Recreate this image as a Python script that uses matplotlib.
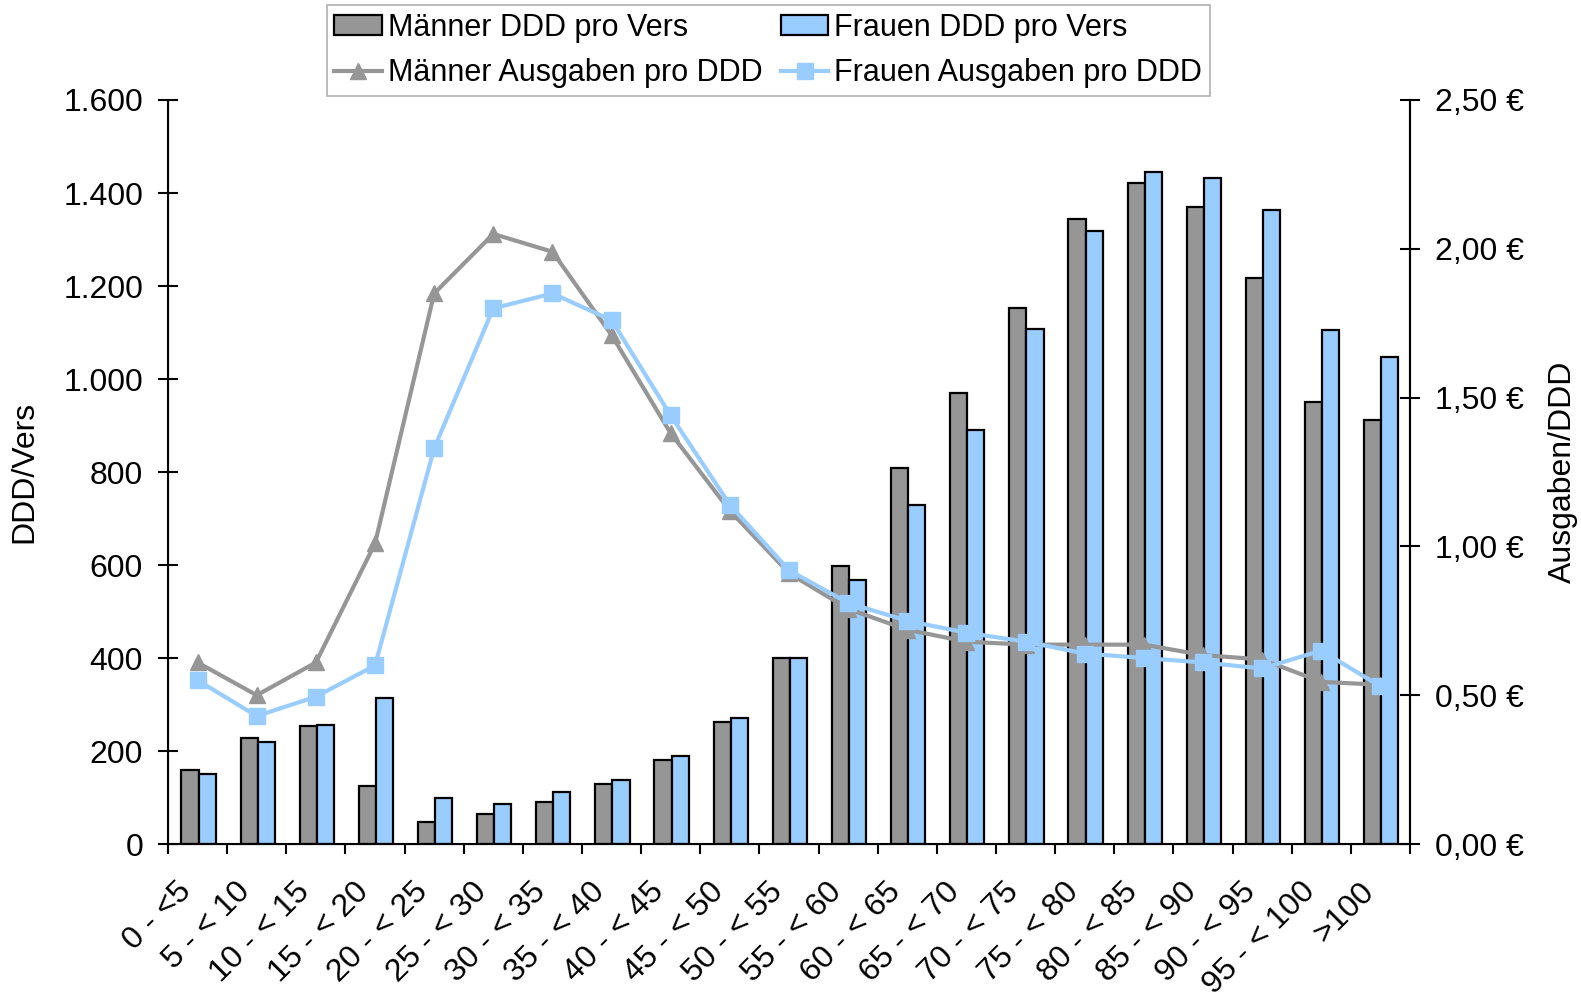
import numpy as np
import matplotlib
matplotlib.use("Agg")
import matplotlib.pyplot as plt
import matplotlib.ticker as mticker
import matplotlib.transforms as mtransforms

plt.rcParams['font.family'] = ['Liberation Sans', 'DejaVu Sans']

# age groups
categories = ["0 - <5", "5 - < 10", "10 - < 15", "15 - < 20", "20 - < 25", "25 - < 30",
              "30 - < 35", "35 - < 40", "40 - < 45", "45 - < 50", "50 - < 55", "55 - < 60",
              "60 - < 65", "65 - < 70", "70 - < 75", "75 - < 80", "80 - < 85", "85 - < 90",
              "90 - < 95", "95 - < 100", ">100"]

# DDD per insured person (left axis)
maenner_ddd = [159, 228, 253, 125, 47, 65, 90, 129, 180, 262, 399, 598,
               809, 969, 1153, 1344, 1422, 1370, 1218, 951, 912]
frauen_ddd = [150, 219, 257, 313, 98, 86, 111, 137, 189, 271, 399, 568,
              728, 891, 1108, 1318, 1446, 1433, 1364, 1106, 1048]

# expenses per DDD in EUR (right axis)
maenner_eur = [0.61, 0.50, 0.61, 1.01, 1.85, 2.05, 1.99, 1.71, 1.38, 1.12, 0.91,
               0.79, 0.72, 0.68, 0.67, 0.67, 0.67, 0.635, 0.62, 0.545, 0.535]
frauen_eur = [0.55, 0.43, 0.495, 0.60, 1.33, 1.80, 1.85, 1.76, 1.44, 1.14, 0.92,
              0.81, 0.75, 0.71, 0.68, 0.64, 0.625, 0.61, 0.59, 0.65, 0.53]

grey = "#969696"
blue = "#99ccff"
fs = 23

fig = plt.figure(figsize=(15.81, 10.06), dpi=100)
ax = fig.add_axes([0.1063, 0.161, 0.8918 - 0.1063, 0.9006 - 0.161])

x = np.arange(len(categories))
w = 0.29
b1 = ax.bar(x - 0.13, maenner_ddd, width=w, color=grey, edgecolor="black", linewidth=1.6,
            label="Männer DDD pro Vers")
b2 = ax.bar(x + 0.16, frauen_ddd, width=w, color=blue, edgecolor="black", linewidth=1.6,
            label="Frauen DDD pro Vers")

ax.set_xlim(-0.5, len(categories) - 0.5)
ax.set_ylim(0, 1600)
ax.set_yticks(np.arange(0, 1601, 200))
ax.yaxis.set_major_formatter(mticker.FuncFormatter(lambda v, p: f"{int(v):,}".replace(",", ".")))
ax.set_ylabel("DDD/Vers", fontsize=fs)
ax.yaxis.set_label_coords(-0.104, 0.5)

# major ticks between groups, labels at group centres
ax.set_xticks(np.arange(len(categories) + 1) - 0.5)
ax.set_xticklabels([])
ax.set_xticks(x, categories, minor=True)
ax.tick_params(axis="x", which="major", direction="out", length=7.5, width=1.5)
ax.tick_params(axis="x", which="minor", length=0, pad=31, labelsize=fs)
offset = mtransforms.ScaledTranslation(-0.11, 0, fig.dpi_scale_trans)
for lab in ax.get_xticklabels(minor=True):
    lab.set_rotation(45)
    lab.set_rotation_mode("anchor")
    lab.set_ha("right")
    lab.set_va("center")
    lab.set_transform(lab.get_transform() + offset)
ax.tick_params(axis="y", direction="inout", length=14, width=1.5, labelsize=fs, pad=11)

ax.spines["top"].set_visible(False)
for s in ("left", "bottom", "right"):
    ax.spines[s].set_linewidth(1.5)

ax2 = ax.twinx()
l1, = ax2.plot(x, maenner_eur, color=grey, linewidth=3, marker="^", markersize=11,
               markeredgecolor=grey, label="Männer Ausgaben pro DDD")
l2, = ax2.plot(x, frauen_eur, color=blue, linewidth=3, marker="s", markersize=11,
               markeredgecolor=blue, label="Frauen Ausgaben pro DDD")
ax2.set_ylim(0, 2.5)
ax2.set_yticks(np.arange(0, 2.51, 0.5))
ax2.yaxis.set_major_formatter(mticker.FuncFormatter(lambda v, p: f"{v:.2f} €".replace(".", ",")))
ax2.tick_params(axis="y", direction="inout", length=14, width=1.5, labelsize=fs, pad=11)
ax2.set_ylabel("Ausgaben/DDD", fontsize=fs)
ax2.yaxis.set_label_coords(1.111, 0.5)
ax2.spines["top"].set_visible(False)
ax2.spines["right"].set_linewidth(1.5)

leg = fig.legend([b1, l1, b2, l2],
                 ["Männer DDD pro Vers", "Männer Ausgaben pro DDD",
                  "Frauen DDD pro Vers", "Frauen Ausgaben pro DDD"],
                 loc="upper center", bbox_to_anchor=(0.486, 0.995), ncol=2, fontsize=22,
                 frameon=True, fancybox=False, edgecolor="#b0b0b0", framealpha=1,
                 handlelength=1.55, handleheight=0.6, handletextpad=0.2,
                 columnspacing=0.6, borderpad=0.25, labelspacing=0.5, borderaxespad=0)
leg.get_frame().set_linewidth(1.2)

fig.savefig("out.png", dpi=100)
